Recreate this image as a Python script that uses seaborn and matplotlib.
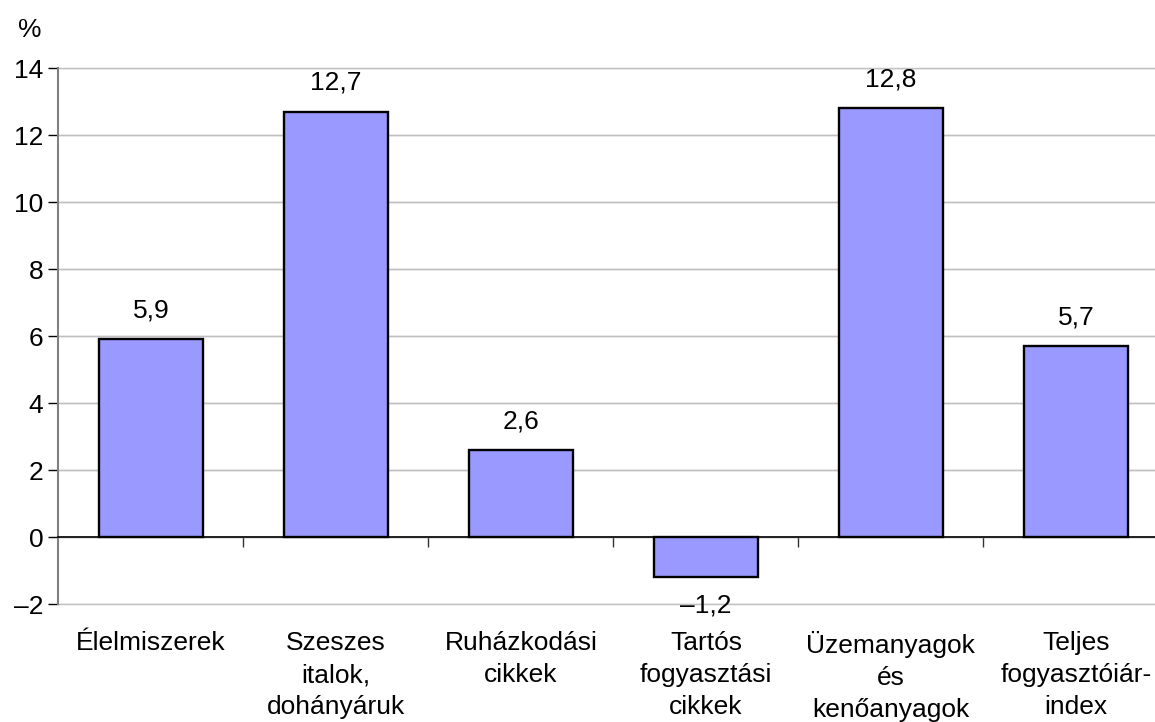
import pandas as pd
import matplotlib
matplotlib.use("Agg")
import matplotlib.pyplot as plt
import seaborn as sns
from matplotlib.ticker import FixedLocator

# data
categories = ["Élelmiszerek", "Szeszes\nitalok,\ndohányáruk", "Ruházkodási\ncikkek",
              "Tartós\nfogyasztási\ncikkek", "Üzemanyagok\nés\nkenőanyagok",
              "Teljes\nfogyasztóiár-\nindex"]
values = [5.9, 12.7, 2.6, -1.2, 12.8, 5.7]
yticks = [-2, 0, 2, 4, 6, 8, 10, 12, 14]

df = pd.DataFrame({"cat": categories, "val": values})

sns.set_style("white")
plt.rcParams["font.family"] = ["Liberation Sans", "DejaVu Sans"]
plt.rcParams["font.size"] = 19
plt.rcParams["text.color"] = "black"
plt.rcParams["xtick.color"] = "black"
plt.rcParams["ytick.color"] = "black"
plt.rcParams["xtick.labelcolor"] = "black"
plt.rcParams["ytick.labelcolor"] = "black"

fig = plt.figure(figsize=(11.55, 7.22), dpi=100)
# plot area runs a bit past the right edge of the picture, as in the original
ax = fig.add_axes([0.0506, 0.1634, 0.961, 0.7424])

sns.barplot(data=df, x="cat", y="val", color="#9999FF", saturation=1,
            edgecolor="black", linewidth=1.7, width=0.56, ax=ax)

def fmt(v):
    s = f"{v:.1f}".replace(".", ",")
    return s.replace("-", "\u2013")

ax.bar_label(ax.containers[0], labels=[fmt(v) for v in values], padding=12,
             fontsize=19, color="black")

ax.set_xlim(-0.5, len(categories) - 0.5)
ax.set_ylim(-2, 14)
ax.set_yticks(yticks)
ax.set_yticklabels([str(t).replace("-", "\u2013") for t in yticks])
ax.yaxis.grid(True, color="#c0c0c0", linewidth=1)
for t in yticks:
    ax.axhline(t, color="#c0c0c0", linewidth=1, zorder=0, clip_on=False)
ax.set_axisbelow(True)
ax.tick_params(axis="y", length=7, width=1, left=True, pad=4)

# x axis on the zero line, ticks between categories
ax.spines["bottom"].set_position(("data", 0))
ax.spines["bottom"].set_color("black")
ax.spines["bottom"].set_linewidth(1.2)
ax.spines["bottom"].set_zorder(3)
ax.xaxis.set_minor_locator(FixedLocator([i + 0.5 for i in range(len(categories) - 1)]))
ax.tick_params(axis="x", which="minor", length=7, width=1, color="#333333", direction="out", bottom=True)
ax.tick_params(axis="x", which="major", length=0, pad=68)
for lab in ax.get_xticklabels():
    lab.set_linespacing(1.4)

ax.spines["left"].set_color("#808080")
ax.spines["left"].set_linewidth(1.5)
ax.spines["top"].set_visible(False)
ax.spines["right"].set_visible(False)

ax.set_xlabel("")
ax.set_ylabel("")
fig.text(0.0156, 0.958, "%", fontsize=19, ha="left", va="center")

fig.savefig("out.png", dpi=100)
